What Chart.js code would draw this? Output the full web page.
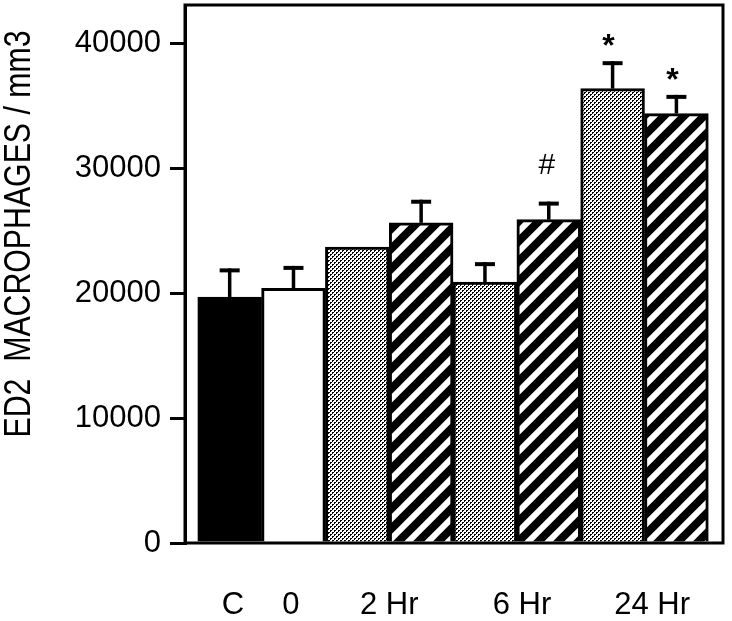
<!DOCTYPE html>
<html>
<head>
<meta charset="utf-8">
<script src="https://cdn.jsdelivr.net/npm/chart.js@4.4.1/dist/chart.umd.min.js"></script>
<style>
  body { margin: 0; background: #fff; }
</style>
</head>
<body>
<canvas id="plot" width="732" height="621"></canvas>
<script>
// group labels under the x axis and where they sit (in bar units)
var groupLabels = ["C", "0", "2 Hr", "6 Hr", "24 Hr"];
var groupLabelPos = [0.55, 1.46, 3, 5.08, 7.12];

// one entry per bar, left to right
var barKind = ["control", "zero", "dots", "stripes", "dots", "stripes", "dots", "stripes"];
var barValues = [19700, 20400, 23700, 25650, 20900, 25900, 36400, 34400];
var barErrors = [2300, 1800, 0, 1850, 1600, 1450, 2200, 1500];
var barMarks = ["", "", "", "", "", "#", "*", "*"];

var yTicks = [0, 10000, 20000, 30000, 40000];
var yTitle = "ED2  MACROPHAGES / mm3";

var fontFamily = "'Liberation Sans', Arial, Helvetica, sans-serif";

// fill patterns
function dotPattern() {
  const c = document.createElement("canvas");
  c.width = 4; c.height = 4;
  const g = c.getContext("2d");
  g.fillStyle = "#fff";
  g.fillRect(0, 0, 4, 4);
  g.fillStyle = "#000";
  g.fillRect(0, 0, 2, 1); g.fillRect(0, 1, 1, 1);
  g.fillRect(2, 2, 2, 1); g.fillRect(2, 3, 1, 1);
  return g.createPattern(c, "repeat");
}

function stripePattern() {
  const s = 20;
  const c = document.createElement("canvas");
  c.width = s; c.height = s;
  const g = c.getContext("2d");
  g.fillStyle = "#fff";
  g.fillRect(0, 0, s, s);
  g.strokeStyle = "#000";
  g.lineWidth = 8;
  g.beginPath();
  g.moveTo(-s / 2, s / 2); g.lineTo(s / 2, -s / 2);
  g.moveTo(0, s); g.lineTo(s, 0);
  g.moveTo(s / 2, s * 1.5); g.lineTo(s * 1.5, s / 2);
  g.stroke();
  return g.createPattern(c, "repeat");
}

const dots = dotPattern();
const stripes = stripePattern();
const fills = barKind.map(function (k) {
  if (k === "control") return "#000";
  if (k === "zero") return "#fff";
  if (k === "dots") return dots;
  return stripes;
});

// T-shaped error bars (upper only) and significance marks
const errorBars = {
  id: "errorBars",
  afterDatasetsDraw(chart) {
    const ctx = chart.ctx;
    const y = chart.scales.y;
    const meta = chart.getDatasetMeta(0);
    ctx.save();
    ctx.strokeStyle = "#000";
    ctx.fillStyle = "#000";
    meta.data.forEach(function (bar, i) {
      let top = y.getPixelForValue(barValues[i]);
      if (barErrors[i] > 0) {
        top = y.getPixelForValue(barValues[i] + barErrors[i]);
        ctx.lineWidth = 3.5;
        ctx.beginPath();
        ctx.moveTo(bar.x, y.getPixelForValue(barValues[i]));
        ctx.lineTo(bar.x, top);
        ctx.stroke();
        ctx.lineWidth = 4;
        ctx.beginPath();
        ctx.moveTo(bar.x - 10, top + 2);
        ctx.lineTo(bar.x + 10, top + 2);
        ctx.stroke();
      }
      if (barMarks[i]) {
        ctx.textAlign = "center";
        ctx.textBaseline = "alphabetic";
        if (barMarks[i] === "#") {
          ctx.font = "30px " + fontFamily;
          ctx.fillText(barMarks[i], bar.x - 2, top - 28);
        } else {
          ctx.font = "bold 32px " + fontFamily;
          ctx.fillText(barMarks[i], bar.x - 4, top - 5);
        }
      }
    });
    ctx.restore();
  },
};

// frame round the plot and the rotated y title
const frame = {
  id: "frame",
  afterDraw(chart) {
    const a = chart.chartArea;
    const ctx = chart.ctx;
    ctx.save();
    ctx.strokeStyle = "#000";
    ctx.lineWidth = 3;
    ctx.strokeRect(a.left, a.top, a.right - a.left, a.bottom - a.top);
    ctx.translate(20, 234);
    ctx.rotate(-Math.PI / 2);
    ctx.fillStyle = "#000";
    ctx.font = "36px " + fontFamily;
    const w = ctx.measureText(yTitle).width;
    ctx.scale(407 / w, 1);
    ctx.textAlign = "center";
    ctx.textBaseline = "middle";
    ctx.fillText(yTitle, 0, 0);
    ctx.restore();
  },
};

const ctx = document.getElementById("plot").getContext("2d");
const chart = new Chart(ctx, {
  type: "bar",
  data: {
    datasets: [
      {
        data: barValues.map(function (v, i) { return { x: i + 0.5, y: v }; }),
        backgroundColor: fills,
        borderColor: "#000",
        borderWidth: 3,
        borderSkipped: "start",
        barPercentage: 1,
        categoryPercentage: 1,
      },
    ],
  },
  options: {
    responsive: false,
    animation: false,
    layout: { padding: { top: 5, right: 9, left: 0, bottom: 0 } },
    plugins: {
      legend: { display: false },
      tooltip: { enabled: false },
    },
    scales: {
      x: {
        type: "linear",
        display: false,
        min: -0.2,
        max: 8.23,
        offset: false,
        afterBuildTicks(axis) {
          axis.ticks = [{ value: 0 }, { value: 8 }];
        },
      },
      x2: {
        type: "linear",
        position: "bottom",
        min: -0.2,
        max: 8.23,
        offset: false,
        grid: { display: false, drawTicks: false },
        border: { display: false },
        afterBuildTicks(axis) {
          axis.ticks = groupLabelPos.map(function (v) { return { value: v }; });
        },
        afterFit(axis) {
          axis.height = 78;
          axis.paddingLeft = 0;
          axis.paddingRight = 0;
        },
        ticks: {
          autoSkip: false,
          maxRotation: 0,
          padding: 44,
          color: "#000",
          font: { size: 31, family: fontFamily },
          callback: function (v, i) { return groupLabels[i]; },
        },
      },
      y: {
        min: 0,
        max: 43100,
        afterBuildTicks(axis) {
          axis.ticks = yTicks.map(function (v) { return { value: v }; });
        },
        afterFit(axis) {
          axis.width = 185;
          axis.paddingTop = 0;
          axis.paddingBottom = 0;
        },
        grid: {
          drawOnChartArea: false,
          drawTicks: true,
          tickLength: 15,
          color: "#000",
          lineWidth: 3,
        },
        border: { display: true, color: "#000", width: 3 },
        ticks: {
          padding: 9,
          color: "#000",
          font: { size: 31, family: fontFamily },
          callback: function (v) { return String(v); },
        },
      },
    },
  },
  plugins: [errorBars, frame],
});
</script>
</body>
</html>
